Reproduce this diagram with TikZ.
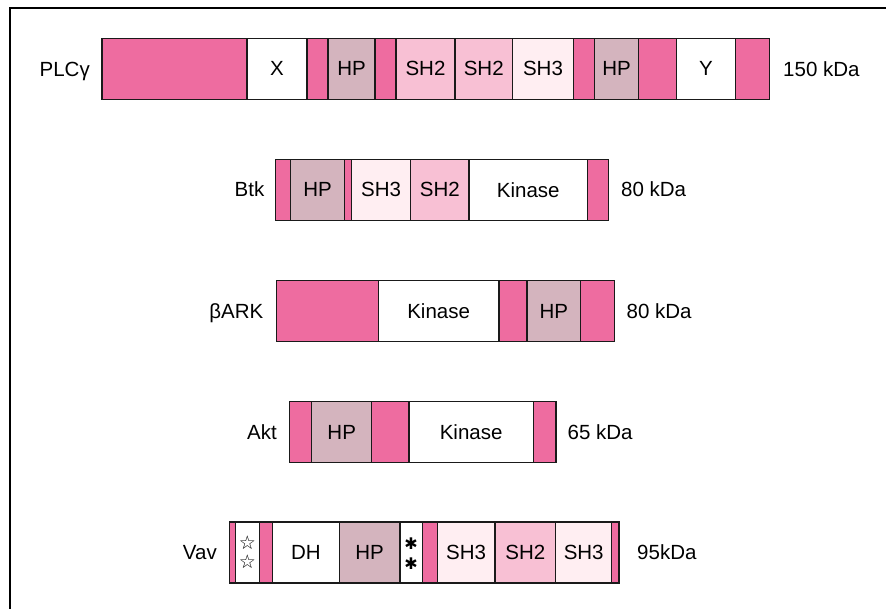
\documentclass[tikz,border=0pt]{standalone}
\usepackage{fontspec}
\setmainfont{Liberation Sans}
\newfontfamily\symfont{DejaVu Sans}
\definecolor{pinkc}{HTML}{EE6CA0}
\definecolor{hpc}{HTML}{D4B4BE}
\definecolor{shtwo}{HTML}{F8C0D4}
\definecolor{shthree}{HTML}{FFEEF2}
\definecolor{edgec}{HTML}{1A1A1A}
\tikzset{
  segbox/.style={draw=edgec, line width=1.3pt, inner sep=0pt, outer sep=0pt,
    minimum height=61pt, font=\fontsize{20.5}{24}\selectfont},
  lbl/.style={inner sep=0pt, font=\fontsize{20.5}{24}\selectfont},
  starsym/.style={inner sep=0pt, font=\symfont\fontsize{19}{20}\selectfont},
  astsym/.style={inner sep=0pt, font=\symfont\fontsize{16}{18}\selectfont}
}
\newcommand\seg[6]{%
  \pgfmathsetmacro\segw{#3-#2}%
  \pgfmathsetmacro\segc{(#2+#3)/2}%
  \node[segbox, fill=#5, minimum width=\segw pt] (#1) at (\segc,#4) {#6};}
\begin{document}
\begin{tikzpicture}[x=1pt,y=-1pt]
\useasboundingbox (0,0) rectangle (886,609);
\coordinate (fa) at (9.5,609);
\coordinate (fb) at (9.5,8.5);
\coordinate (fc) at (885,8.5);
\draw[line width=2pt, line cap=rect] (fa) -- (fb) -- (fc);
% PLCgamma
\def\yc{68.8}
\seg{p1}{102}{247}{\yc}{pinkc}{}
\seg{p2}{247}{307}{\yc}{white}{X}
\seg{p3}{307}{328}{\yc}{pinkc}{}
\seg{p4}{328}{375}{\yc}{hpc}{HP}
\seg{p5}{375}{396}{\yc}{pinkc}{}
\seg{p6}{396}{455}{\yc}{shtwo}{SH2}
\seg{p7}{455}{512.5}{\yc}{shtwo}{SH2}
\seg{p8}{512.5}{573.5}{\yc}{shthree}{SH3}
\seg{p9}{573.5}{594.5}{\yc}{pinkc}{}
\seg{p10}{594.5}{638.5}{\yc}{hpc}{HP}
\seg{p11}{638.5}{676.5}{\yc}{pinkc}{}
\seg{p12}{676.5}{735.5}{\yc}{white}{Y}
\seg{p13}{735.5}{769.5}{\yc}{pinkc}{}
\node[lbl, anchor=base east] (plcname) at (90,\yc+7.3) {PLCγ};
\node[lbl, anchor=base west] (plcmass) at (783,\yc+7.3) {150 kDa};
% Btk
\def\yc{189.7}
\seg{b1}{275.7}{290.4}{\yc}{pinkc}{}
\seg{b2}{290.4}{344.6}{\yc}{hpc}{HP}
\seg{b3}{344.6}{351.4}{\yc}{pinkc}{}
\seg{b4}{351.4}{410.7}{\yc}{shthree}{SH3}
\seg{b5}{410.7}{468.9}{\yc}{shtwo}{SH2}
\seg{b6}{468.9}{587.6}{\yc}{white}{Kinase}
\seg{b7}{587.6}{608.5}{\yc}{pinkc}{}
\node[lbl, anchor=base east] (btkname) at (264.5,\yc+7.3) {Btk};
\node[lbl, anchor=base west] (btkmass) at (621,\yc+7.3) {80 kDa};
% betaARK
\def\yc{311.2}
\seg{k1}{276.7}{378.3}{\yc}{pinkc}{}
\seg{k2}{378.3}{499}{\yc}{white}{Kinase}
\seg{k3}{499}{527}{\yc}{pinkc}{}
\seg{k4}{527}{580.7}{\yc}{hpc}{HP}
\seg{k5}{580.7}{614.3}{\yc}{pinkc}{}
\node[lbl, anchor=base east] (arkname) at (263.5,\yc+7.3) {βARK};
\node[lbl, anchor=base west] (arkmass) at (626.5,\yc+7.3) {80 kDa};
% Akt
\def\yc{432}
\seg{a1}{289.3}{311.7}{\yc}{pinkc}{}
\seg{a2}{311.7}{371.7}{\yc}{hpc}{HP}
\seg{a3}{371.7}{409}{\yc}{pinkc}{}
\seg{a4}{409}{533.3}{\yc}{white}{Kinase}
\seg{a5}{533.3}{556}{\yc}{pinkc}{}
\node[lbl, anchor=base east] (aktname) at (277,\yc+7.3) {Akt};
\node[lbl, anchor=base west] (aktmass) at (567.5,\yc+7.3) {65 kDa};
% Vav
\def\yc{552.5}
\seg{v1}{229.7}{235.7}{\yc}{pinkc}{}
\seg{v2}{235.7}{259.3}{\yc}{white}{}
\seg{v3}{259.3}{272.7}{\yc}{pinkc}{}
\seg{v4}{272.7}{339.3}{\yc}{white}{DH}
\seg{v5}{339.3}{400}{\yc}{hpc}{HP}
\seg{v6}{400}{422.7}{\yc}{white}{}
\seg{v7}{422.7}{437.3}{\yc}{pinkc}{}
\seg{v8}{437.3}{495}{\yc}{shthree}{SH3}
\seg{v9}{495}{555.7}{\yc}{shtwo}{SH2}
\seg{v10}{555.7}{611.7}{\yc}{shthree}{SH3}
\seg{v11}{611.7}{619}{\yc}{pinkc}{}
\node[starsym] (st1) at (247.5,543) {☆};
\node[starsym] (st2) at (247.5,562) {☆};
\node[astsym] (as1) at (411,544) {✱};
\node[astsym] (as2) at (411,564) {✱};
\node[lbl, anchor=base east] (vavname) at (217,\yc+7.3) {Vav};
\node[lbl, anchor=base west] (vavmass) at (637,\yc+7.3) {95kDa};
\end{tikzpicture}
\end{document}
